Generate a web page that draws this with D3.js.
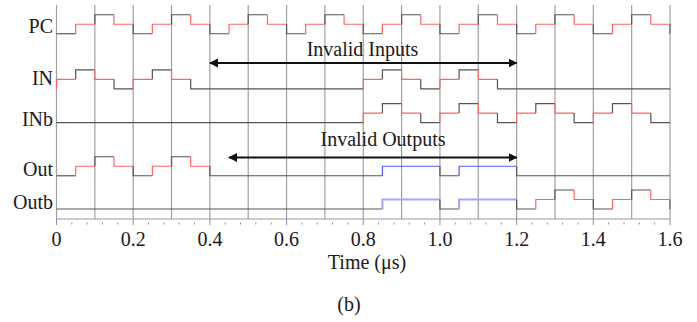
<!DOCTYPE html>
<html><head><meta charset="utf-8">
<script src="https://cdn.jsdelivr.net/npm/d3@7"></script>
<style>html,body{margin:0;padding:0;background:#fff;}svg{display:block;}</style>
</head><body>
<svg id="c" width="697" height="322"></svg>
<script>
// ---- data ----
const slotStarts = [0,0.05,0.1,0.15,0.2,0.25,0.3,0.35,0.4,0.45,0.5,0.55,0.6,0.65,0.7,0.75,
                    0.8,0.85,0.9,0.95,1.0,1.05,1.1,1.15,1.2,1.25,1.3,1.35,1.4,1.45,1.5,1.55];
const slotWidth = 0.05;
const signalNames = ["PC","IN","INb","Out","Outb"];
// levels: 0 low, 1 mid, 2 high, "X" invalid (mid, blue)
const pcLevels   = [0,1,2,1, 0,1,2,1, 0,1,2,1, 0,1,2,1, 0,1,2,1, 0,1,2,1, 0,1,2,1, 0,1,2,1];
const inLevels   = [1,2,1,0, 1,2,1,0, 0,0,0,0, 0,0,0,0, 1,2,1,0, 1,2,1,0, 0,0,0,0, 0,0,0,0];
const inbLevels  = [0,0,0,0, 0,0,0,0, 0,0,0,0, 0,0,0,0, 1,2,1,0, 1,2,1,0, 1,2,1,0, 1,2,1,0];
const outLevels  = [0,1,2,1, 0,1,2,1, 0,0,0,0, 0,0,0,0, 0,"X","X","X", 0,"X","X","X", 0,0,0,0, 0,0,0,0];
const outbLevels = [0,0,0,0, 0,0,0,0, 0,0,0,0, 0,0,0,0, 0,"X","X","X", 0,"X","X","X", 0,1,2,1, 0,1,2,1];
const gridTimes = [0,0.1,0.2,0.3,0.4,0.5,0.6,0.7,0.8,0.9,1.0,1.1,1.2,1.3,1.4,1.5,1.6];
const tickValues = [0,0.2,0.4,0.6,0.8,1.0,1.2,1.4,1.6];
const tickLabels = ["0","0.2","0.4","0.6","0.8","1.0","1.2","1.4","1.6"];
const minorTicks = [0.04,0.08,0.12,0.16,0.24,0.28,0.32,0.36,0.44,0.48,0.52,0.56,0.64,0.68,0.72,0.76,
                    0.84,0.88,0.92,0.96,1.04,1.08,1.12,1.16,1.24,1.28,1.32,1.36,1.44,1.48,1.52,1.56];
const annotations = [
  {text:"Invalid Inputs", from:0.4, to:1.2},
  {text:"Invalid Outputs", from:0.45, to:1.2}
];
const xTitle = "Time (\u03bcs)";
const caption = "(b)";

// ---- layout ----
const signalLevels = [pcLevels,inLevels,inbLevels,outLevels,outbLevels];
const signalOffsets = [19.5,13.7,10.15,4.55,1.05]; // baseline of each trace, in level units
const labelNudge = [-0.8,-4,3.4,0.2,0];
const annY = [63,157.5], annTextY = [56,146], annTextX = [362.5,383];
const fontFam = "'Liberation Serif','Times New Roman',serif";

const svg = d3.select("#c");
const x = d3.scaleLinear().domain([0,1.6]).range([56.5,670]);
const yU = d3.scaleLinear().domain([0,22.526]).range([219,5]);
const lvl = v => v==="X" ? 1 : v;
const col = v => v==="X" ? null : (v===1 ? "#ff6464" : "#555");

// grid
svg.append("g").selectAll("line").data(gridTimes).join("line")
  .attr("x1",d=>x(d)).attr("x2",d=>x(d)).attr("y1",5).attr("y2",219)
  .attr("stroke","#a0a0a0").attr("stroke-width",1.2);
svg.append("line").attr("x1",x(0)).attr("x2",x(1.6)).attr("y1",219).attr("y2",219)
  .attr("stroke","#999").attr("stroke-width",1.2);

// x ticks
svg.append("g").selectAll("line").data(tickValues).join("line")
  .attr("x1",d=>x(d)).attr("x2",d=>x(d)).attr("y1",219).attr("y2",225)
  .attr("stroke","#8888c0").attr("stroke-width",1);
svg.append("g").selectAll("line").data(minorTicks).join("line")
  .attr("x1",d=>x(d)).attr("x2",d=>x(d)).attr("y1",222.5).attr("y2",224.5)
  .attr("stroke","#8888c0").attr("stroke-width",1);
svg.append("g").selectAll("text").data(tickValues).join("text")
  .attr("x",d=>x(d)).attr("y",246).attr("text-anchor","middle")
  .attr("font-family",fontFam).attr("font-size",20).attr("fill","#1a1a1a")
  .text((d,i)=>tickLabels[i]);
svg.append("text").attr("x",367).attr("y",269).attr("text-anchor","middle")
  .attr("font-family",fontFam).attr("font-size",20).attr("fill","#1a1a1a").text(xTitle);
svg.append("text").attr("x",349).attr("y",311).attr("text-anchor","middle")
  .attr("font-family",fontFam).attr("font-size",20).attr("fill","#1a1a1a").text(caption);

// signals
const gS = svg.append("g").attr("fill","none");
signalLevels.forEach((levels,si)=>{
  const base = signalOffsets[si];
  const yy = v => yU(base + lvl(v));
  const blueCol = si===4 ? "#a4a4ff" : "#5a5aff";
  const blueW = si===4 ? 2 : 1.2;
  let groups = [];
  levels.forEach((v,i)=>{
    const g = groups[groups.length-1];
    if (g && g.v===v) g.end = slotStarts[i]+slotWidth;
    else groups.push({v:v,start:slotStarts[i],end:slotStarts[i]+slotWidth});
  });
  let prev = 0;
  groups.forEach(g=>{
    const c = col(g.v) || blueCol;
    gS.append("path")
      .attr("d",`M${x(g.start)},${yy(prev)}V${yy(g.v)}H${x(g.end)}`)
      .attr("stroke",c).attr("stroke-width",g.v==="X"?blueW:1.2);
    prev = g.v;
  });
  if (lvl(prev)!==0) {
    gS.append("path").attr("d",`M${x(1.6)},${yy(prev)}V${yy(0)}`)
      .attr("stroke","#666").attr("stroke-width",1.2);
  }
  svg.append("text").attr("x",53).attr("y",yU(base)+labelNudge[si])
    .attr("text-anchor","end").attr("font-family",fontFam).attr("font-size",20)
    .attr("fill","#1a1a1a").text(signalNames[si]);
});

// annotations
const defs = svg.append("defs");
defs.append("marker").attr("id","ah").attr("viewBox","0 0 10 10").attr("refX",9).attr("refY",5)
  .attr("markerWidth",4.5).attr("markerHeight",4.5).attr("orient","auto-start-reverse")
  .attr("markerUnits","strokeWidth")
  .append("path").attr("d","M0,0L10,5L0,10Z").attr("fill","#111");
annotations.forEach((a,i)=>{
  svg.append("line").attr("x1",x(a.from)).attr("x2",x(a.to)).attr("y1",annY[i]).attr("y2",annY[i])
    .attr("stroke","#111").attr("stroke-width",2)
    .attr("marker-start","url(#ah)").attr("marker-end","url(#ah)");
  svg.append("text").attr("x",annTextX[i]).attr("y",annTextY[i])
    .attr("text-anchor","middle").attr("font-family",fontFam).attr("font-size",20)
    .attr("fill","#1a1a1a").text(a.text);
});
</script>
</body></html>
